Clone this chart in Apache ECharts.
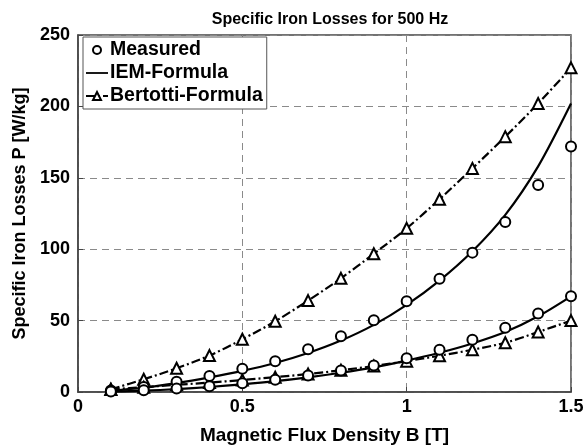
<!DOCTYPE html>
<html>
<head>
<meta charset="utf-8">
<script src="https://cdn.jsdelivr.net/npm/echarts@6/dist/echarts.min.js"></script>
<style>
html,body{margin:0;padding:0;background:#fff;}
#chart{width:585px;height:445px;}
</style>
</head>
<body>
<div id="chart"></div>
<script>
var fluxDensity = [0.1, 0.2, 0.3, 0.4, 0.5, 0.6, 0.7, 0.8, 0.9, 1.0, 1.1, 1.2, 1.3, 1.4, 1.5];
var measuredHigh = [1.0, 3.5, 7.2, 11.2, 16.2, 21.5, 30, 39, 50.2, 63.6, 79.3, 97.6, 119, 145, 172];
var iemHigh = [0.8, 3.0, 6.2, 10.2, 14.8, 20.3, 27.3, 36, 47, 61, 78, 98.5, 124, 158, 202];
var bertottiHigh = [1.9, 8.9, 16.6, 25.5, 36.9, 49.5, 64, 79.6, 96.8, 114.6, 135, 156.6, 178.8, 202, 227];
var measuredLow = [0.3, 1.2, 2.5, 4.0, 6.2, 8.6, 11.6, 15, 18.6, 23.6, 29.6, 36.6, 45, 55, 67];
var iemLow = [0.2, 0.9, 2.0, 3.5, 5.4, 7.6, 10.3, 13.5, 17.3, 22, 27.5, 34, 42, 53, 67];
var bertottiLow = [1.8, 3.4, 5.0, 6.6, 8.4, 10.4, 12.6, 15.2, 18.2, 21.6, 25.4, 29.6, 34.5, 42, 50];
var xTicks = ['0', '0.5', '1', '1.5'];
var legendNames = ['Measured', 'IEM-Formula', 'Bertotti-Formula'];

function pairs(vals) { return fluxDensity.map(function (x, i) { return [x, vals[i]]; }); }

var FONT = '"Liberation Sans", Arial, sans-serif';
var dashDot = [9, 3, 2, 3];
var lineIcon = 'path://M0,0 L0,0 M0,4.1 L22,4.1 L22,5.9 L0,5.9 Z M22,10 L22,10';

function measured(vals) {
  return { name: legendNames[0], type: 'line', data: pairs(vals), symbol: 'circle', symbolSize: 10,
    itemStyle: { color: '#fff', borderColor: '#000', borderWidth: 2 },
    lineStyle: { width: 0, opacity: 0 }, z: 5 };
}
function iem(vals) {
  return { name: legendNames[1], type: 'line', data: pairs(vals), smooth: 0.3, symbol: 'none',
    itemStyle: { color: '#000' }, lineStyle: { color: '#000', width: 2.2 }, z: 3 };
}
function bert(vals) {
  return { name: legendNames[2], type: 'line', data: pairs(vals), smooth: 0.3, symbol: 'triangle', symbolSize: 11,
    itemStyle: { color: '#fff', borderColor: '#000', borderWidth: 2 },
    lineStyle: { color: '#000', width: 2.2, type: dashDot }, z: 4 };
}

var chart = echarts.init(document.getElementById('chart'));
chart.setOption({
  animation: false,
  backgroundColor: '#fff',
  title: { text: 'Specific Iron Losses for 500 Hz', left: 325, textAlign: 'center', top: 7,
    textStyle: { fontFamily: FONT, fontWeight: 'bold', fontSize: 16, color: '#000' } },
  grid: { left: 78, right: 14, top: 35, bottom: 53, show: true, borderColor: '#444', borderWidth: 1.5,
    backgroundColor: 'transparent', containLabel: false, outerBoundsMode: 'none' },
  legend: { data: [
      { name: legendNames[0] },
      { name: legendNames[1], icon: lineIcon },
      { name: legendNames[2] }
    ], orient: 'vertical', left: 83, top: 37, itemWidth: 22, itemHeight: 10, itemGap: 3,
    padding: [3, 4, 3, 2], backgroundColor: '#fff', borderColor: '#555', borderWidth: 1,
    textStyle: { fontFamily: FONT, fontWeight: 'bold', fontSize: 19.5, color: '#000', padding: [0, 0, 0, -3] } },
  xAxis: { type: 'value', min: 0, max: 1.5, interval: 0.5,
    name: 'Magnetic Flux Density B [T]', nameLocation: 'middle', nameGap: 34,
    nameTextStyle: { fontFamily: FONT, fontWeight: 'bold', fontSize: 19, color: '#000' },
    axisLine: { show: true, lineStyle: { color: '#444', width: 1.5 } },
    axisTick: { show: true, inside: true, length: 5, lineStyle: { color: '#444' } },
    axisLabel: { fontFamily: FONT, fontWeight: 'bold', fontSize: 18, color: '#000', margin: 6,
      formatter: function (v) { return xTicks[Math.round(v / 0.5)]; } },
    splitLine: { show: true, lineStyle: { color: '#8a8a8a', width: 1, type: [7, 5] } } },
  yAxis: { type: 'value', min: 0, max: 250, interval: 50,
    name: 'Specific Iron Losses P [W/kg]', nameLocation: 'middle', nameGap: 41,
    nameTextStyle: { fontFamily: FONT, fontWeight: 'bold', fontSize: 18, color: '#000' },
    axisLine: { show: true, lineStyle: { color: '#444', width: 1.5 } },
    axisTick: { show: true, inside: true, length: 5, lineStyle: { color: '#444' } },
    axisLabel: { fontFamily: FONT, fontWeight: 'bold', fontSize: 18, color: '#000', margin: 8 },
    splitLine: { show: true, lineStyle: { color: '#8a8a8a', width: 1, type: [7, 5] } } },
  series: [
    measured(measuredHigh), iem(iemHigh), bert(bertottiHigh),
    measured(measuredLow), iem(iemLow), bert(bertottiLow)
  ]
});
</script>
</body>
</html>
